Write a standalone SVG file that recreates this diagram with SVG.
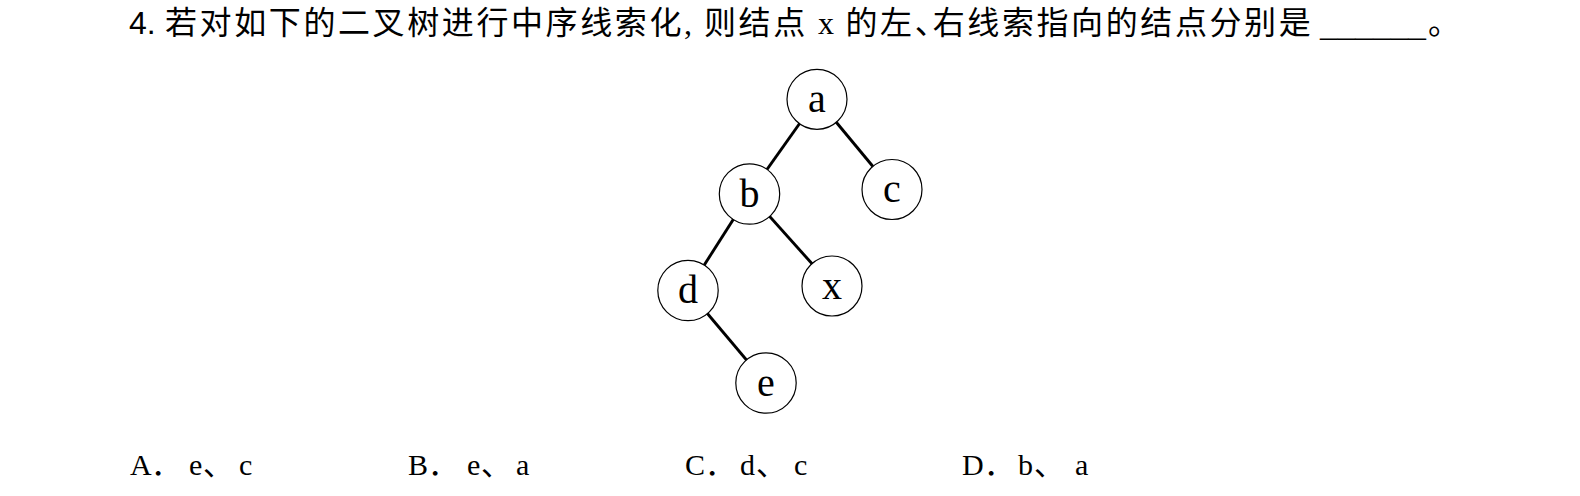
<svg xmlns="http://www.w3.org/2000/svg" width="1580" height="496" viewBox="0 0 1580 496">
<style>
.bg{fill:#ffffff}
.cjk{font-family:"Noto Sans CJK SC","Noto Sans CJK JP",sans-serif;font-size:32px;letter-spacing:2.6px;fill:#000}
.lat{font-family:"Liberation Serif","Noto Sans CJK SC",serif;font-size:32px;fill:#000}
.num{font-family:"Liberation Sans",sans-serif;font-size:32px;fill:#000}
.node circle{fill:#ffffff;stroke:#000;stroke-width:1.2}
.node text{font-family:"Liberation Serif",serif;font-size:40px;text-anchor:middle;fill:#000}
.edge{stroke:#000;stroke-width:2.9;fill:none}
.opt{font-family:"Liberation Serif","Noto Sans CJK SC",serif;font-size:30px;fill:#000}
</style>
<rect class="bg" x="0" y="0" width="1580" height="496"/>

<g id="question">
  <text class="num" x="129" y="34">4.</text>
  <text class="cjk" x="165" y="34">若对如下的二叉树进行中序线索化</text>
  <text class="lat" x="684" y="34">,</text>
  <text class="cjk" x="704" y="34">则结点</text>
  <text class="lat" x="818" y="34">x</text>
  <text class="cjk" x="845.5" y="34">的左、<tspan dx="-16.6">右线索指向的结点分别是</tspan></text>
  <text class="lat" x="1320" y="36" textLength="106" lengthAdjust="spacingAndGlyphs">______</text>
  <text class="cjk" x="1428" y="34">。</text>
</g>

<g id="connectors">
  <line class="edge" x1="817" y1="99" x2="749.5" y2="194"/>
  <line class="edge" x1="817" y1="99" x2="892" y2="189.5"/>
  <line class="edge" x1="749.5" y1="194" x2="688" y2="290.5"/>
  <line class="edge" x1="749.5" y1="194" x2="832" y2="286"/>
  <line class="edge" x1="688" y1="290.5" x2="766" y2="383"/>
</g>

<g id="node-a" class="node"><circle cx="817" cy="99.3" r="30"/><text x="817" y="111.7">a</text></g>
<g id="node-b" class="node"><circle cx="749.5" cy="194" r="30.2"/><text x="749.5" y="206.5">b</text></g>
<g id="node-c" class="node"><circle cx="892" cy="189.5" r="30"/><text x="892" y="202">c</text></g>
<g id="node-d" class="node"><circle cx="688" cy="290.5" r="30.2"/><text x="688" y="303">d</text></g>
<g id="node-x" class="node"><circle cx="832" cy="286" r="30"/><text x="832" y="298.5">x</text></g>
<g id="node-e" class="node"><circle cx="766" cy="383" r="30.2"/><text x="766" y="395.5">e</text></g>

<g id="options">
  <text class="opt" y="475"><tspan x="130">A</tspan><tspan x="151">．</tspan><tspan x="189">e</tspan><tspan x="203">、</tspan><tspan x="239">c</tspan></text>
  <text class="opt" y="475"><tspan x="408">B</tspan><tspan x="428">．</tspan><tspan x="467">e</tspan><tspan x="481">、</tspan><tspan x="516">a</tspan></text>
  <text class="opt" y="475"><tspan x="685">C</tspan><tspan x="705">．</tspan><tspan x="740">d</tspan><tspan x="756">、</tspan><tspan x="794">c</tspan></text>
  <text class="opt" y="475"><tspan x="962">D</tspan><tspan x="984">．</tspan><tspan x="1018">b</tspan><tspan x="1034">、</tspan><tspan x="1075">a</tspan></text>
</g>
</svg>
